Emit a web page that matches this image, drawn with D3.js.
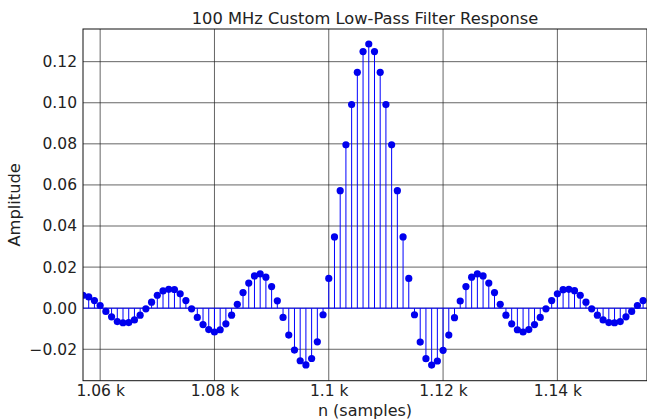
<!DOCTYPE html>
<html>
<head>
<meta charset="utf-8">
<script src="https://cdn.jsdelivr.net/npm/d3@7"></script>
<style>
  body { margin: 0; background: #fff; }
  text { font-family: "DejaVu Sans", sans-serif; fill: #222; }
</style>
</head>
<body>
<div id="chart"></div>
<script>
// sample numbers and filter taps
const firstSample = 1057;
const amplitude = [
  0.0063, 0.0055, 0.0037, 0.0013, -0.0016, -0.0042, -0.0065, -0.0071, -0.0070, -0.0057,
  -0.0034, -0.0003, 0.0029, 0.0063, 0.0084, 0.0092, 0.0091, 0.0070, 0.0037, -0.0003,
  -0.0045, -0.0080, -0.0104, -0.0116, -0.0105, -0.0076, -0.0034, 0.0019, 0.0076, 0.0122,
  0.0157, 0.0167, 0.0151, 0.0105, 0.0036, -0.0045, -0.0131, -0.0204, -0.0256, -0.0276,
  -0.0245, -0.0164, -0.0032, 0.0145, 0.0347, 0.0572, 0.0795, 0.0991, 0.1148, 0.1249,
  0.1286,
  0.1249, 0.1148, 0.0991, 0.0795, 0.0572, 0.0347, 0.0145, -0.0032, -0.0165, -0.0246,
  -0.0277, -0.0257, -0.0205, -0.0131, -0.0046, 0.0035, 0.0105, 0.0151, 0.0167, 0.0157,
  0.0122, 0.0076, 0.0019, -0.0034, -0.0076, -0.0105, -0.0116, -0.0104, -0.0080, -0.0045,
  -0.0003, 0.0037, 0.0070, 0.0090, 0.0092, 0.0085, 0.0063, 0.0029, -0.0003, -0.0034,
  -0.0057, -0.0070, -0.0071, -0.0065, -0.0042, -0.0016, 0.0013, 0.0037
];

const xTicks = [1060, 1080, 1100, 1120, 1140];
const xTickLabels = ["1.06 k", "1.08 k", "1.1 k", "1.12 k", "1.14 k"];
const yTicks = [-0.02, 0, 0.02, 0.04, 0.06, 0.08, 0.10, 0.12];
const yTickLabels = ["\u22120.02", "0.00", "0.02", "0.04", "0.06", "0.08", "0.10", "0.12"];

const data = amplitude.map((v, i) => ({ n: firstSample + i, v: v }));

const width = 647, height = 420;
const margin = { top: 29, right: 0, bottom: 39.3, left: 83 };
const plotW = width - margin.left - margin.right;
const plotH = height - margin.top - margin.bottom;

const svg = d3.select("#chart").append("svg")
  .attr("width", width)
  .attr("height", height);

const x = d3.scaleLinear().domain([1057.0, 1155.68]).range([0, plotW]);
const y = d3.scaleLinear().domain([-0.0353, 0.1359]).range([plotH, 0]);

const g = svg.append("g")
  .attr("transform", `translate(${margin.left},${margin.top})`);

g.append("clipPath").attr("id", "clip")
  .append("rect").attr("width", plotW).attr("height", plotH);

// grid
const grid = g.append("g");
grid.selectAll(".vgrid").data(xTicks).enter().append("line")
  .attr("x1", d => x(d)).attr("x2", d => x(d))
  .attr("y1", 0).attr("y2", plotH)
  .attr("stroke", "#222").attr("stroke-width", 0.7);
grid.selectAll(".hgrid").data(yTicks).enter().append("line")
  .attr("y1", d => y(d)).attr("y2", d => y(d))
  .attr("x1", 0).attr("x2", plotW)
  .attr("stroke", "#222").attr("stroke-width", 0.7);

const plot = g.append("g").attr("clip-path", "url(#clip)");

// stems
plot.selectAll(".stem").data(data).enter().append("line")
  .attr("class", "stem")
  .attr("x1", d => x(d.n)).attr("x2", d => x(d.n))
  .attr("y1", y(0)).attr("y2", d => y(d.v))
  .attr("stroke", "#0000ff").attr("stroke-width", 1);

// baseline
plot.append("line")
  .attr("x1", 0).attr("x2", plotW)
  .attr("y1", y(0)).attr("y2", y(0))
  .attr("stroke", "#0000ff").attr("stroke-width", 1);

// markers
plot.selectAll(".dot").data(data).enter().append("circle")
  .attr("cx", d => x(d.n)).attr("cy", d => y(d.v))
  .attr("r", 3.6)
  .attr("fill", "#0000ee");

// frame
g.append("rect")
  .attr("width", plotW).attr("height", plotH)
  .attr("fill", "none").attr("stroke", "#111").attr("stroke-width", 1);

// axes
const xAxis = d3.axisBottom(x).tickValues(xTicks)
  .tickFormat((d, i) => xTickLabels[i]).tickSize(0).tickPadding(4.5);
const yAxis = d3.axisLeft(y).tickValues(yTicks)
  .tickFormat((d, i) => yTickLabels[i]).tickSize(0).tickPadding(6);

const xg = g.append("g").attr("transform", `translate(0,${plotH})`).call(xAxis);
const yg = g.append("g").call(yAxis);
[xg, yg].forEach(a => {
  a.select(".domain").remove();
  a.selectAll("text").attr("font-size", "15.5px").attr("fill", "#222")
    .attr("font-family", "DejaVu Sans, sans-serif");
});

// title and labels
const cx = 365;
svg.append("text")
  .attr("x", cx).attr("y", 23.5)
  .attr("text-anchor", "middle").attr("font-size", "16.3px")
  .text("100 MHz Custom Low-Pass Filter Response");

svg.append("text")
  .attr("x", cx).attr("y", 415.5)
  .attr("text-anchor", "middle").attr("font-size", "16px")
  .text("n (samples)");

svg.append("text")
  .attr("transform", `translate(20,${margin.top + plotH / 2}) rotate(-90)`)
  .attr("text-anchor", "middle").attr("font-size", "16.3px")
  .text("Amplitude");
</script>
</body>
</html>
